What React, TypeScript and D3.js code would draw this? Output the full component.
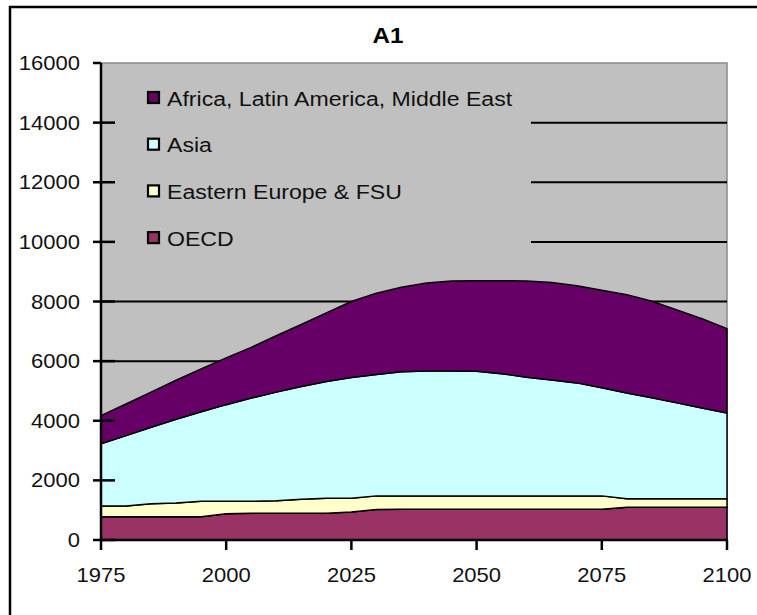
/**
 * A1 scenario - stacked area chart by world region, 1975-2100,
 * drawn imperatively with D3 into a fixed-size SVG.
 */

import { useEffect, useRef } from 'react';
import * as d3 from 'd3';

const YEARS = [
  1975, 1980, 1985, 1990, 1995, 2000, 2005, 2010, 2015, 2020, 2025, 2030, 2035, 2040, 2045, 2050,
  2055, 2060, 2065, 2070, 2075, 2080, 2085, 2090, 2095, 2100,
];

// Stacked bottom to top
const OECD = [
  780, 780, 780, 780, 780, 880, 900, 900, 900, 900, 940, 1020, 1030, 1030, 1030, 1030, 1030, 1030,
  1030, 1030, 1030, 1100, 1100, 1100, 1100, 1100,
];
const EASTERN_EUROPE = [
  360, 360, 440, 460, 520, 420, 400, 420, 470, 500, 460, 460, 450, 450, 450, 450, 450, 450, 450,
  450, 450, 280, 280, 280, 280, 280,
];
const ASIA = [
  2090, 2360, 2560, 2810, 3000, 3240, 3460, 3640, 3780, 3920, 4050, 4070, 4160, 4190, 4190, 4180,
  4100, 3980, 3890, 3790, 3630, 3550, 3390, 3220, 3050, 2880,
];
const AFRICA_LATAM_ME = [
  940, 1060, 1180, 1310, 1440, 1570, 1700, 1890, 2080, 2300, 2550, 2730, 2840, 2950, 3020, 3040,
  3120, 3230, 3270, 3260, 3270, 3300, 3240, 3120, 2990, 2830,
];

const SERIES_KEYS = ['oecd', 'ee', 'asia', 'africa'];
const SERIES_LABELS: Record<string, string> = {
  africa: 'Africa, Latin America, Middle East',
  asia: 'Asia',
  ee: 'Eastern Europe & FSU',
  oecd: 'OECD',
};
const SERIES_COLORS: Record<string, string> = {
  africa: '#660066',
  asia: '#ccffff',
  ee: '#ffffcc',
  oecd: '#993366',
};
const LEGEND_ORDER = ['africa', 'asia', 'ee', 'oecd'];

const Y_TICKS = [0, 2000, 4000, 6000, 8000, 10000, 12000, 14000, 16000];
const X_TICKS = [1975, 2000, 2025, 2050, 2075, 2100];
const TITLE = 'A1';

const WIDTH = 757;
const HEIGHT = 615;
const PLOT = { left: 101, right: 727, top: 63, bottom: 540 };
const FONT = '"Liberation Sans", Arial, sans-serif';
// The source picture is stretched a little horizontally; mimic it on the text
const TEXT_STRETCH = 1.1;
const TICK_SIZE = '20px';
const LEGEND_SIZE = '21px';

export default function App() {
  const svgRef = useRef<SVGSVGElement>(null);

  useEffect(() => {
    if (!svgRef.current) return;
    const svg = d3.select(svgRef.current);
    svg.selectAll('*').remove();

    const rows = YEARS.map((year, i) => ({
      year,
      oecd: OECD[i],
      ee: EASTERN_EUROPE[i],
      asia: ASIA[i],
      africa: AFRICA_LATAM_ME[i],
    }));

    const x = d3.scaleLinear().domain([1975, 2100]).range([PLOT.left, PLOT.right]);
    const y = d3.scaleLinear().domain([0, 16000]).range([PLOT.bottom, PLOT.top]);

    const at = (px: number, py: number) => `translate(${px},${py}) scale(${TEXT_STRETCH},1)`;

    // Outer chart frame (runs off the right and bottom of the picture)
    svg
      .append('rect')
      .attr('x', 10)
      .attr('y', 7)
      .attr('width', 770)
      .attr('height', 630)
      .attr('fill', '#ffffff')
      .attr('stroke', '#000000')
      .attr('stroke-width', 2.5);

    // Title
    svg
      .append('text')
      .attr('transform', at(388, 43))
      .attr('text-anchor', 'middle')
      .attr('font-size', '22px')
      .attr('font-weight', 'bold')
      .attr('fill', '#000000')
      .text(TITLE);

    // Plot background
    svg
      .append('rect')
      .attr('x', PLOT.left)
      .attr('y', PLOT.top)
      .attr('width', PLOT.right - PLOT.left)
      .attr('height', PLOT.bottom - PLOT.top)
      .attr('fill', '#c0c0c0');
    svg
      .append('path')
      .attr('d', `M${PLOT.left},${PLOT.top}H${PLOT.right}V${PLOT.bottom}`)
      .attr('fill', 'none')
      .attr('stroke', '#8a8a8a')
      .attr('stroke-width', 1.5);

    // Gridlines
    svg
      .append('g')
      .selectAll('line')
      .data(Y_TICKS.filter(t => t > 0 && t < 16000))
      .enter()
      .append('line')
      .attr('x1', PLOT.left)
      .attr('x2', PLOT.right)
      .attr('y1', (d: number) => y(d))
      .attr('y2', (d: number) => y(d))
      .attr('stroke', '#000000')
      .attr('stroke-width', 2);

    // Stacked areas
    const stacked = d3.stack().keys(SERIES_KEYS)(rows);
    const area = d3
      .area()
      .x((d: any) => x(d.data.year))
      .y0((d: any) => y(d[0]))
      .y1((d: any) => y(d[1]));
    svg
      .append('g')
      .selectAll('path')
      .data(stacked)
      .enter()
      .append('path')
      .attr('d', (d: any) => area(d))
      .attr('fill', (d: any) => SERIES_COLORS[d.key])
      .attr('stroke', '#000000')
      .attr('stroke-width', 1.5)
      .attr('stroke-linejoin', 'round');

    // Legend box (covers the gridlines behind it)
    svg
      .append('rect')
      .attr('x', PLOT.left + 2)
      .attr('y', 72)
      .attr('width', 428)
      .attr('height', 190)
      .attr('fill', '#c0c0c0');
    const legend = svg
      .append('g')
      .selectAll('g')
      .data(LEGEND_ORDER)
      .enter()
      .append('g')
      .attr('transform', (_d: string, i: number) => `translate(147, ${98 + i * 46.7})`);
    legend
      .append('rect')
      .attr('x', 1)
      .attr('y', -6)
      .attr('width', 11)
      .attr('height', 11)
      .attr('fill', (d: string) => SERIES_COLORS[d])
      .attr('stroke', '#000000')
      .attr('stroke-width', 2.2);
    legend
      .append('text')
      .attr('transform', at(20, 7.5))
      .attr('font-size', LEGEND_SIZE)
      .attr('fill', '#111111')
      .text((d: string) => SERIES_LABELS[d]);

    // Y axis with crossing ticks
    const yAxis = svg.append('g');
    yAxis
      .append('line')
      .attr('x1', PLOT.left)
      .attr('x2', PLOT.left)
      .attr('y1', PLOT.top)
      .attr('y2', PLOT.bottom)
      .attr('stroke', '#000000')
      .attr('stroke-width', 2.5);
    yAxis
      .selectAll('.tick')
      .data(Y_TICKS)
      .enter()
      .append('line')
      .attr('x1', PLOT.left - 8)
      .attr('x2', (d: number) => (d === 16000 ? PLOT.left : PLOT.left + 14))
      .attr('y1', (d: number) => y(d))
      .attr('y2', (d: number) => y(d))
      .attr('stroke', '#000000')
      .attr('stroke-width', 2.5);
    yAxis
      .selectAll('text')
      .data(Y_TICKS)
      .enter()
      .append('text')
      .attr('transform', (d: number) => at(80, y(d) + 7))
      .attr('text-anchor', 'end')
      .attr('font-size', TICK_SIZE)
      .attr('fill', '#111111')
      .text((d: number) => `${d}`);

    // X axis with outside ticks
    const xAxis = svg.append('g');
    xAxis
      .append('line')
      .attr('x1', PLOT.left - 1)
      .attr('x2', PLOT.right + 1)
      .attr('y1', PLOT.bottom)
      .attr('y2', PLOT.bottom)
      .attr('stroke', '#000000')
      .attr('stroke-width', 2.5);
    xAxis
      .selectAll('.tick')
      .data(X_TICKS)
      .enter()
      .append('line')
      .attr('x1', (d: number) => x(d))
      .attr('x2', (d: number) => x(d))
      .attr('y1', PLOT.bottom)
      .attr('y2', PLOT.bottom + 10)
      .attr('stroke', '#000000')
      .attr('stroke-width', 2.5);
    xAxis
      .selectAll('text')
      .data(X_TICKS)
      .enter()
      .append('text')
      .attr('transform', (d: number) => at(x(d), 582))
      .attr('text-anchor', 'middle')
      .attr('font-size', TICK_SIZE)
      .attr('fill', '#111111')
      .text((d: number) => `${d}`);
  }, []);

  return (
    <svg
      ref={svgRef}
      width={WIDTH}
      height={HEIGHT}
      style={{
        position: 'absolute',
        left: 0,
        top: 0,
        display: 'block',
        background: '#ffffff',
        fontFamily: FONT,
      }}
    />
  );
}
